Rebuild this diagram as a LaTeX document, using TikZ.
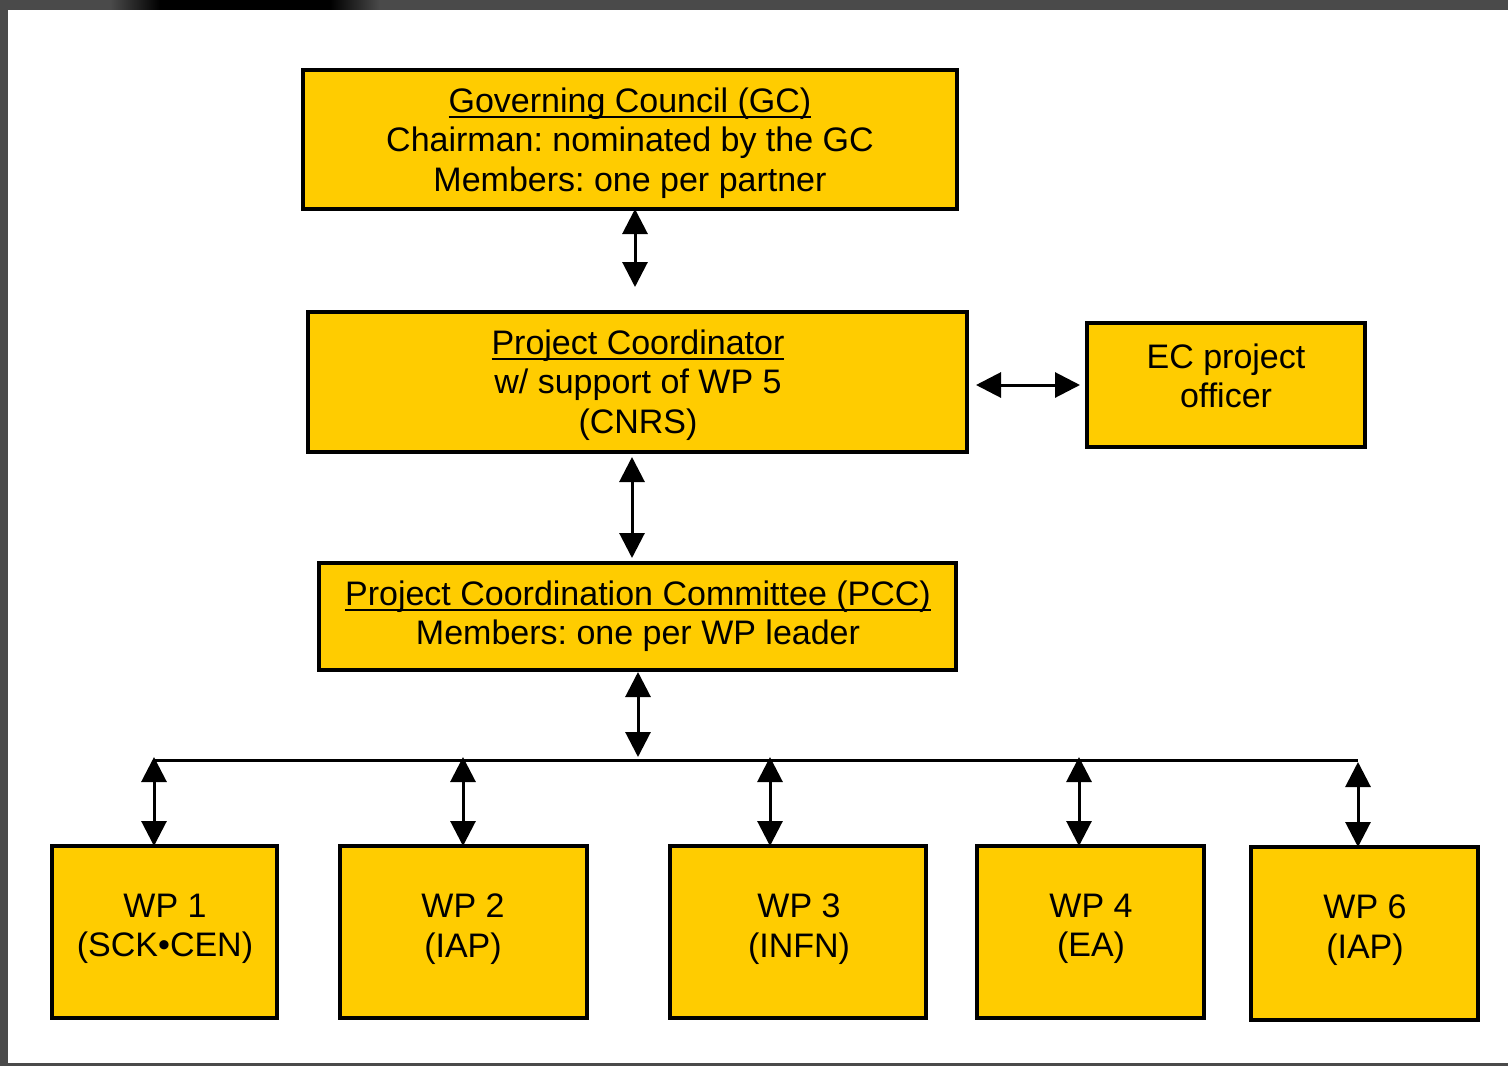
\documentclass[tikz,border=0pt]{standalone}
\usepackage{fontspec}
\setmainfont{Liberation Sans}
\usetikzlibrary{arrows.meta}
\definecolor{boxyellow}{HTML}{FFCC00}
\definecolor{framegray}{HTML}{4A4A4A}
\frenchspacing
\newcommand\myul[1]{\setbox0\hbox{#1}\rlap{\rule[-6pt]{\wd0}{2.4pt}}\box0}
\begin{document}
\begin{tikzpicture}[x=1pt,y=-1pt,
  box/.style={draw=black,line width=3.5pt,fill=boxyellow,rectangle,inner sep=0pt,outer sep=0pt,anchor=north west},
  txt/.style={align=center,font=\fontsize{34}{39.5}\selectfont\frenchspacing,inner sep=0pt},
  dbl/.style={line width=3pt,{Triangle[width=25pt,length=25pt]}-{Triangle[width=25pt,length=25pt]}},
  busline/.style={line width=3pt}]
\useasboundingbox (0,0) rectangle (1508,1066);
% screenshot frame
\fill[framegray] (0,0) rectangle (1508,1066);
\shade[left color=framegray,right color=black] (110,0) rectangle (160,10);
\fill[black] (160,0) rectangle (330,10);
\shade[left color=black,right color=framegray] (330,0) rectangle (380,10);
\fill[white] (8,10) rectangle (1508,1063);

% boxes
\node[box,minimum width=654pt,minimum height=139pt] (gc) at (303,70) {};
\node[box,minimum width=659pt,minimum height=140pt] (pc) at (308,312) {};
\node[box,minimum width=278pt,minimum height=124pt] (ec) at (1087,323) {};
\node[box,minimum width=637pt,minimum height=107pt] (pcc) at (319,563) {};
\node[box,minimum width=225pt,minimum height=172pt] (wp1) at (52,846) {};
\node[box,minimum width=247pt,minimum height=172pt] (wp2) at (340,846) {};
\node[box,minimum width=256pt,minimum height=172pt] (wp3) at (670,846) {};
\node[box,minimum width=227pt,minimum height=172pt] (wp4) at (977,846) {};
\node[box,minimum width=227pt,minimum height=173pt] (wp6) at (1251,847) {};

% texts
\node[txt] (gct) at (630,143) {\myul{Governing Council (GC)}\\Chairman: nominated by the GC\\Members: one per partner};
\node[txt] (pct) at (638,385) {\myul{Project Coordinator}\\w/ support of WP 5\\(CNRS)};
\node[txt] (ect) at (1226,376) {EC project\\officer};
\node[txt] (pcct) at (638,616) {\myul{Project Coordination Committee (PCC)}\\Members: one per WP leader};
\node[txt] (wp1t) at (165,929) {WP 1\\(SCK•CEN)};
\node[txt] (wp2t) at (463,929) {WP 2\\(IAP)};
\node[txt] (wp3t) at (799,929) {WP 3\\(INFN)};
\node[txt] (wp4t) at (1091,929) {WP 4\\(EA)};
\node[txt] (wp6t) at (1365,930) {WP 6\\(IAP)};

% connector coordinates
\coordinate (a1) at (635,287);
\coordinate (a2) at (632,457);
\coordinate (a3) at (632,558);
\coordinate (a4) at (638,672);
\coordinate (hub) at (638,757);
\coordinate (bl) at (154,760);
\coordinate (br) at (1358,760);
\coordinate (t1) at (154,757);
\coordinate (t2) at (463,757);
\coordinate (t3) at (770,757);
\coordinate (t4) at (1079,757);
\coordinate (t6) at (1358,762);
\coordinate (e1) at (976,385);
\coordinate (e2) at (1080,385);

% connectors
\draw[dbl] (gc.south -| a1) -- (a1);
\draw[dbl] (e1) -- (e2);
\draw[dbl] (a2) -- (a3);
\draw[dbl] (a4) -- (hub);
\draw[busline] (bl) -- (br);
\draw[dbl] (t1) -- (wp1.north -| t1);
\draw[dbl] (t2) -- (wp2.north -| t2);
\draw[dbl] (t3) -- (wp3.north -| t3);
\draw[dbl] (t4) -- (wp4.north -| t4);
\draw[dbl] (t6) -- (wp6.north -| t6);
\end{tikzpicture}
\end{document}
